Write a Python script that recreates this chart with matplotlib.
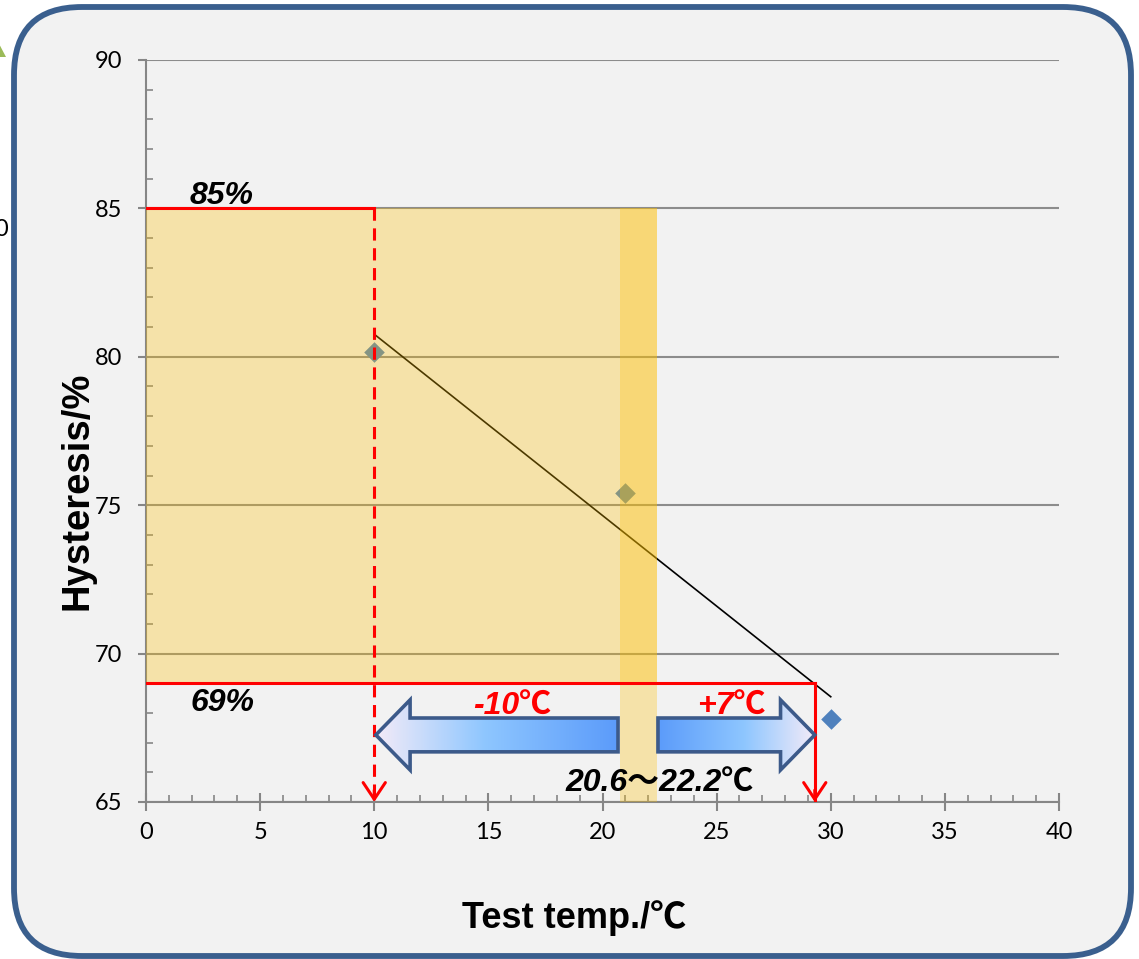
import numpy as np
import matplotlib
matplotlib.use('Agg')
import matplotlib.pyplot as plt
from matplotlib.patches import FancyBboxPatch, Polygon, Rectangle
from matplotlib.colors import LinearSegmentedColormap
from matplotlib.ticker import MultipleLocator

# data
temps = [10, 21, 30]
hysteresis = [80.15, 75.4, 67.8]
upper_pct = 85
lower_pct = 69
cold_limit = 10
hot_limit = 29.3
band_lo = 20.75
band_hi = 22.4
x_ticks = [0, 5, 10, 15, 20, 25, 30, 35, 40]
y_ticks = [65, 70, 75, 80, 85, 90]

plt.rcParams['font.family'] = ['Lato', 'DejaVu Sans']

W, H = 1139, 959
fig = plt.figure(figsize=(W / 100, H / 100), dpi=100)

# rounded frame behind everything (pixel coords)
bg = fig.add_axes([0, 0, 1, 1], zorder=-1)
bg.set_xlim(0, W)
bg.set_ylim(H, 0)
bg.axis('off')
bg.add_patch(FancyBboxPatch((14, 7), 1117, 949,
                            boxstyle='round,pad=0,rounding_size=68',
                            fc='#F2F2F2', ec='#3A5F8E', lw=4.2))
bg.add_patch(Polygon([(-4, 38), (6, 57), (-14, 57)], closed=True, fc='#9BBB59', ec='none'))
bg.text(8, 230, '0', ha='right', va='center', fontsize=17)

ax = fig.add_axes([146 / W, 1 - 802 / H, 913 / W, 742 / H])
ax.set_facecolor('none')
ax.set_xlim(0, 40)
ax.set_ylim(65, 90)
ax.set_xticks(x_ticks)
ax.set_yticks(y_ticks)
ax.xaxis.set_minor_locator(MultipleLocator(1))
ax.yaxis.set_minor_locator(MultipleLocator(1))
for s in ['top', 'right']:
    ax.spines[s].set_visible(False)
for s in ['left', 'bottom']:
    ax.spines[s].set_color('#868686')
    ax.spines[s].set_linewidth(1.5)
ax.grid(axis='y', color='#8C8C8C', lw=1.5)
ax.set_axisbelow(True)
ax.tick_params(axis='x', which='major', direction='inout', length=13, width=1.5,
               color='#868686', pad=8, labelsize=17)
ax.tick_params(axis='x', which='minor', direction='in', length=5, width=1.2, color='#868686')
ax.tick_params(axis='y', which='major', direction='out', length=6, width=1.5,
               color='#868686', pad=11, labelsize=17)
ax.tick_params(axis='y', which='minor', direction='in', length=5, width=1.2, color='#868686')

# points and linear trend
ax.scatter(temps, hysteresis, marker='D', s=110, color='#4F81BD', zorder=3, linewidths=0)
k, b = np.polyfit(temps, hysteresis, 1)
tx = np.array([min(temps), max(temps)])
ax.plot(tx, k * tx + b, color='black', lw=1.2, zorder=2)

# shaded ranges
ax.add_patch(Rectangle((0, lower_pct), band_hi, upper_pct - lower_pct,
                       fc='#FFC000', alpha=0.3, ec='none', zorder=4))
ax.add_patch(Rectangle((band_lo, 65), band_hi - band_lo, upper_pct - 65,
                       fc='#FFC000', alpha=0.3, ec='none', zorder=4))

# red guide lines
red = '#FF0000'
ax.plot([0, cold_limit], [upper_pct, upper_pct], color=red, lw=2.2, zorder=5)
ax.plot([cold_limit, cold_limit], [upper_pct, 65], color=red, lw=2.2, ls=(0, (4, 2.5)), zorder=5)
ax.plot([0, hot_limit], [lower_pct, lower_pct], color=red, lw=2.2, zorder=5)
ax.plot([hot_limit, hot_limit], [lower_pct, 65], color=red, lw=2.2, zorder=5)
for xv in [cold_limit, hot_limit]:
    ax.annotate('', xy=(xv, 65), xytext=(xv, 65.4),
                arrowprops=dict(arrowstyle='->,head_length=0.6,head_width=0.4',
                                color=red, lw=2.2, shrinkA=0, shrinkB=0,
                                mutation_scale=20),
                zorder=5, annotation_clip=False)

# gradient block arrows
yc, sh, hh, hl = 67.26, 0.57, 1.18, 1.5
cmap = LinearSegmentedColormap.from_list('arr', [(0, '#F3EBF8'), (0.45, '#8EC6FF'), (1, '#5B9BFA')])


def block_arrow(x_tip, x_tail):
    d = np.sign(x_tail - x_tip)
    xb = x_tip + d * hl
    pts = [(x_tip, yc), (xb, yc + hh), (xb, yc + sh), (x_tail, yc + sh),
           (x_tail, yc - sh), (xb, yc - sh), (xb, yc - hh)]
    poly = Polygon(pts, closed=True, fc='none', ec='#3C5A8A', lw=2.6, zorder=7)
    ax.add_patch(poly)
    grad = np.linspace(0, 1, 256)[None, :]
    if d < 0:
        grad = grad[:, ::-1]
    x0, x1 = sorted([x_tip, x_tail])
    im = ax.imshow(grad, cmap=cmap, extent=[x0, x1, yc - hh, yc + hh],
                   aspect='auto', zorder=6, interpolation='bilinear')
    im.set_clip_path(poly)


block_arrow(cold_limit + 0.07, band_lo - 0.07)
block_arrow(hot_limit, band_hi + 0.03)
ax.set_xlim(0, 40)
ax.set_ylim(65, 90)

# annotations
bi = dict(fontweight='bold', fontstyle='italic', fontsize=23, zorder=8)
cj = ['Liberation Sans', 'Noto Sans CJK JP']
ax.text(1.93, 85.15, f'{upper_pct}%', family='Liberation Sans', va='baseline', **bi)
ax.text(1.93, 68.07, f'{lower_pct}%', family='Liberation Sans', va='baseline', **bi)
ax.text(16.03, 67.93, '-10℃', color=red, family=cj, ha='center', va='baseline', **bi)
ax.text(25.63, 67.93, '+7℃', color=red, family=cj, ha='center', va='baseline', **bi)
ax.text(22.52, 65.34, '20.6～22.2℃', color='black', family=cj, ha='center', va='baseline', **bi)

ax.text(-0.0745, 0.42, 'Hysteresis/%', transform=ax.transAxes, rotation=90,
        ha='center', va='center', fontsize=27.5, fontweight='bold', family='Liberation Sans')
ax.text(0.469, -0.156, 'Test temp./℃', transform=ax.transAxes,
        ha='center', va='center', fontsize=26, fontweight='bold', family=cj)

fig.savefig('out.png', dpi=100)
